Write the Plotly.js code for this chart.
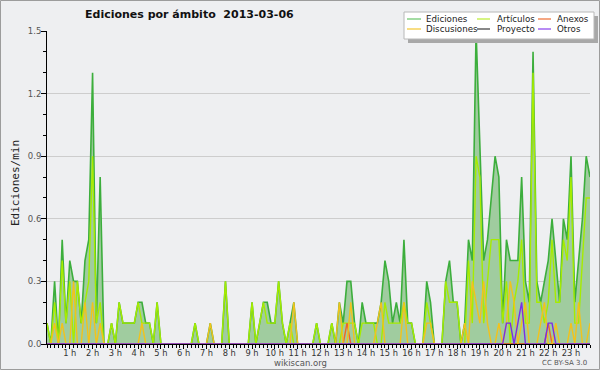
<!DOCTYPE html>
<html><head><meta charset="utf-8">
<script src="https://cdn.plot.ly/plotly-3.0.1.min.js"></script>
<style>html,body{margin:0;padding:0;background:#eeeff1}#chart{width:600px;height:370px}</style>
</head><body><div id="chart"></div>
<script>
// 10-minute slots of 2013-03-06 (00:00 .. 23:50), values in edits per minute
const hourLabels = ["1 h","2 h","3 h","4 h","5 h","6 h","7 h","8 h","9 h","10 h","11 h","12 h",
  "13 h","14 h","15 h","16 h","17 h","18 h","19 h","20 h","21 h","22 h","23 h"];
const yTickLabels = ["0.0","0.3","0.6","0.9","1.2","1.5"];
const seriesNames = ["Ediciones","Artículos","Anexos","Discusiones","Proyecto","Otros"];
const seriesColors = ["#3cae3c","#a6ec00","#f0642a","#f2c21c","#555555","#7b2de6"];
const legendColors = ["#86d086","#c8f05a","#f28a5a","#f6d25a","#606060","#a066f0"];

const ediciones = [
  0.1,0,0.3,0,0.5,0.1,0.4,0.3,0.3,0.1,0.4,0.5,
  1.3,0.1,0.8,0,0,0.1,0,0.2,0.1,0.1,0.1,0.1,
  0.2,0.2,0.1,0.1,0,0.2,0,0,0,0,0,0,
  0,0,0,0.1,0,0,0,0.1,0,0,0,0.3,
  0,0,0,0,0,0,0.2,0,0.1,0.2,0.2,0.1,
  0.1,0.3,0.1,0,0.1,0.2,0,0,0,0,0,0.1,
  0,0,0,0.1,0,0.2,0.1,0.3,0.3,0.1,0,0.2,
  0.1,0.1,0.1,0.1,0.2,0.4,0.3,0.1,0.2,0.1,0.5,0.1,
  0.1,0,0,0,0.3,0.2,0,0,0,0.3,0.4,0.2,
  0.2,0,0.1,0.5,0.4,1.5,0.9,0.4,0.5,0.7,0.9,0.8,
  0.1,0.5,0.4,0.4,0.4,0.8,0.3,0.2,1.4,0.3,0.2,0.3,
  0.4,0.6,0.4,0.2,0.6,0.5,0.9,0.2,0.4,0.6,0.9,0.8
];
const articulos = [
  0.1,0,0.2,0,0.4,0.1,0.3,0,0.3,0.1,0.2,0.3,
  0.9,0.1,0.2,0,0,0.1,0,0.2,0.1,0.1,0.1,0.1,
  0.2,0.1,0.1,0.1,0,0.2,0,0,0,0,0,0,
  0,0,0,0.1,0,0,0,0,0,0,0,0.3,
  0,0,0,0,0,0,0.2,0,0.1,0.2,0.1,0.1,
  0.1,0.3,0.1,0,0.1,0,0,0,0,0,0,0.1,
  0,0,0,0.1,0,0,0.1,0.1,0.1,0.1,0,0.1,
  0.1,0.1,0.1,0,0,0.2,0.1,0.1,0.1,0.1,0.2,0.1,
  0.1,0,0,0,0.2,0.1,0,0,0,0.3,0.2,0.2,
  0.2,0,0,0.4,0.1,0.9,0.8,0.1,0.3,0.5,0.5,0.5,
  0.1,0.3,0,0.2,0.3,0.5,0.1,0.1,1.3,0.2,0.2,0.1,
  0.2,0.5,0.2,0.2,0.5,0.4,0.8,0.1,0.1,0.4,0.7,0.7
];
const anexos = [
  0,0,0,0,0,0,0,0,0,0,0,0,
  0,0,0,0,0,0,0,0,0,0,0,0,
  0,0,0,0,0,0,0,0,0,0,0,0,
  0,0,0,0,0,0,0,0,0,0,0,0,
  0,0,0,0,0,0,0,0,0,0,0,0,
  0,0,0,0,0,0,0,0,0,0,0,0,
  0,0,0,0,0,0,0,0.1,0,0,0,0,
  0,0,0,0,0,0,0,0,0,0,0,0,
  0,0,0,0,0,0,0,0,0,0,0,0,
  0,0,0,0,0,0,0,0,0,0,0,0,
  0,0,0,0,0,0,0,0,0,0,0,0,
  0.1,0,0,0,0,0,0,0,0,0,0,0
];
const discusiones = [
  0,0,0.1,0,0.1,0,0,0.3,0,0,0.2,0,
  0.2,0,0.1,0,0,0,0,0,0,0,0,0,
  0,0.1,0,0,0,0,0,0,0,0,0,0,
  0,0,0,0,0,0,0,0.1,0,0,0,0,
  0,0,0,0,0,0,0,0,0,0,0,0,
  0,0,0,0,0,0.2,0,0,0,0,0,0,
  0,0,0,0,0,0.2,0,0,0.2,0,0,0,
  0,0,0,0.1,0.2,0,0,0,0,0,0.2,0,
  0,0,0,0,0.1,0.1,0,0,0,0,0,0,
  0,0,0.1,0,0.3,0.2,0.1,0.3,0.1,0,0,0.1,
  0,0.1,0.3,0.2,0,0.1,0.2,0,0,0,0.1,0.2,
  0,0,0.1,0,0,0,0.1,0,0.2,0,0,0.1
];
const proyecto = [
  0,0,0,0,0,0,0,0,0,0,0,0,
  0,0,0,0,0,0,0,0,0,0,0,0,
  0,0,0,0,0,0,0,0,0,0,0,0,
  0,0,0,0,0,0,0,0,0,0,0,0,
  0,0,0,0,0,0,0,0,0,0,0,0,
  0,0,0,0,0,0,0,0,0,0,0,0,
  0,0,0,0,0,0,0,0,0,0,0,0,
  0,0,0,0,0,0,0,0,0,0,0,0,
  0,0,0,0,0,0,0,0,0,0,0,0,
  0,0,0,0,0,0,0,0,0,0,0,0,
  0,0,0,0,0,0,0,0,0,0,0,0,
  0,0,0,0,0,0,0,0,0,0,0,0
];
const otros = [
  0,0,0,0,0,0,0,0,0,0,0,0,
  0,0,0,0,0,0,0,0,0,0,0,0,
  0,0,0,0,0,0,0,0,0,0,0,0,
  0,0,0,0,0,0,0,0,0,0,0,0,
  0,0,0,0,0,0,0,0,0,0,0,0,
  0,0,0,0,0,0,0,0,0,0,0,0,
  0,0,0,0,0,0,0,0,0,0,0,0,
  0,0,0,0,0,0,0,0,0,0,0,0,
  0,0,0,0,0,0,0,0,0,0,0,0,
  0,0,0,0,0,0,0,0,0,0,0,0,
  0,0.1,0.1,0,0.1,0.2,0,0,0,0,0,0,
  0.1,0.1,0,0,0,0,0,0,0,0,0,0
];

const slots = ediciones.map((_, i) => i);
const hourTickVals = hourLabels.map((_, k) => (k + 1) * 6);
const yTickVals = yTickLabels.map(Number);

// plot area in pixels
const L = 47, R = 590, T = 31, B = 344;
const px = x => (x - L) / (R - L);
const py = y => (B - y) / (B - T);

const seriesData = [ediciones, articulos, anexos, discusiones, proyecto, otros];
const drawOrder = [0, 4, 1, 2, 3, 5];
const traces = drawOrder.map(k => {
  const t = {
    type: 'scatter', mode: 'lines', x: slots, y: seriesData[k], name: seriesNames[k],
    line: {color: seriesColors[k], width: k === 0 ? 1.6 : 1.4}, showlegend: false, hoverinfo: 'skip'
  };
  if (k === 0) { t.fill = 'tozeroy'; t.fillcolor = '#a0cc9f'; }
  return t;
});

const FONT = 'DejaVu Sans, sans-serif';
const shapes = [
  {type:'rect', xref:'paper', yref:'paper', x0:px(0.5), x1:px(599.5), y0:py(0.5), y1:py(369.5),
   line:{color:'#9c9c9c', width:1}, layer:'above'},
  {type:'rect', xref:'paper', yref:'paper', x0:px(408), x1:px(598), y0:py(16), y1:py(43),
   fillcolor:'#a8a8a8', line:{width:0}, layer:'above'},
  {type:'rect', xref:'paper', yref:'paper', x0:px(404), x1:px(594), y0:py(12), y1:py(39),
   fillcolor:'#ffffff', line:{color:'#b8b8b8', width:1}, layer:'above'}
];
const annotations = [
  {text:'Ediciones/min', xref:'paper', yref:'paper', x:px(15), y:py(183), textangle:-90,
   showarrow:false, xanchor:'center', yanchor:'middle', font:{family:'DejaVu Sans Mono, monospace', size:11, color:'#222'}},
  {text:'wikiscan.org', xref:'paper', yref:'paper', x:px(300), y:py(362.5), showarrow:false,
   xanchor:'center', yanchor:'middle', font:{family:FONT, size:8.5, color:'#555'}},
  {text:'CC BY-SA 3.0', xref:'paper', yref:'paper', x:px(589), y:py(362.5), showarrow:false,
   xanchor:'right', yanchor:'middle', font:{family:FONT, size:7, color:'#555'}}
];
const lineX0 = [407, 477, 538], lineX1 = [421, 490, 551], textX = [424, 495, 555], rowY = [19, 29];
seriesNames.forEach((n, i) => {
  const c = i % 3, r = Math.floor(i / 3);
  shapes.push({type:'line', xref:'paper', yref:'paper', x0:px(lineX0[c]), x1:px(lineX1[c]),
    y0:py(rowY[r]), y1:py(rowY[r]), line:{color:legendColors[i], width:1.5}, layer:'above'});
  annotations.push({text:n, xref:'paper', yref:'paper', x:px(textX[c]), y:py(rowY[r]), showarrow:false,
    xanchor:'left', yanchor:'middle', font:{family:FONT, size:8.7, color:'#222'}});
});

const layout = {
  width: 600, height: 370,
  margin: {l: L, r: 600 - R, t: T, b: 370 - B, pad: 0},
  paper_bgcolor: '#eeeff1', plot_bgcolor: '#eeeff1',
  title: {text: '<b>Ediciones por ámbito\u00a0\u00a02013-03-06</b>', font: {family: FONT, size: 11, color: '#111'},
    xref: 'container', yref: 'container', x: 85 / 600, xanchor: 'left', y: 1 - 14 / 370, yanchor: 'middle'},
  xaxis: {range: [0, 143], tickmode: 'array', tickvals: hourTickVals, ticktext: hourLabels,
    ticks: 'outside', ticklen: 4, tickcolor: '#000', tickwidth: 1, ticklabelstandoff: -3,
    showline: true, linecolor: '#000', linewidth: 1, showgrid: false, zeroline: false,
    tickfont: {family: FONT, size: 8.3, color: '#333'},
    minor: {tick0: 0, dtick: 1, ticks: 'outside', ticklen: 3, tickcolor: '#000', showgrid: false},
    fixedrange: true},
  yaxis: {range: [0, 1.5], tickmode: 'array', tickvals: yTickVals, ticktext: yTickLabels,
    ticks: 'outside', ticklen: 5, tickcolor: '#000', ticklabelstandoff: -2,
    showline: true, linecolor: '#000', linewidth: 1, showgrid: true, gridcolor: '#cdcdcd', gridwidth: 1,
    zeroline: false, tickfont: {family: FONT, size: 8.5, color: '#555'},
    minor: {tick0: 0, dtick: 0.1, ticks: 'outside', ticklen: 3, tickcolor: '#000', showgrid: false},
    fixedrange: true},
  shapes: shapes, annotations: annotations, showlegend: false
};
Plotly.newPlot('chart', traces, layout, {staticPlot: true, displayModeBar: false});
</script></body></html>
